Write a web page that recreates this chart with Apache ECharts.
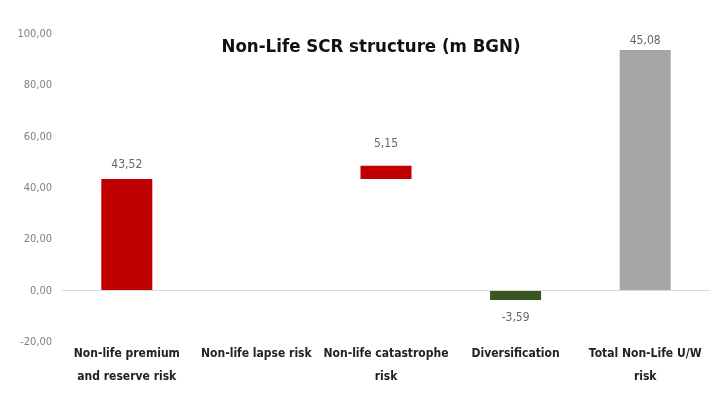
<!DOCTYPE html>
<html><head><meta charset="utf-8">
<script src="https://cdn.jsdelivr.net/npm/echarts@6/dist/echarts.min.js"></script>
<style>html,body{margin:0;padding:0;background:#fff}#c{width:720px;height:415px}</style>
</head><body><div id="c"></div>
<script>
const categories = ["Non-life premium\nand reserve risk", "Non-life lapse risk", "Non-life catastrophe\nrisk", "Diversification", "Total Non-Life U/W\nrisk"];
const baseValues = [0, 0, 43.52, 0, 0];
const barValues = [43.52, null, 5.15, -3.59, 93.75];
const labelValues = [43.52, null, 5.15, -3.59, 45.08];
const barColors = ["#c00000", "#c00000", "#c00000", "#375623", "#a6a6a6"];
const labelDistances = [8, 8, 16, 12, 3];
const fmt = v => v.toFixed(2).replace('.', ',');
const font = '"DejaVu Sans Condensed", "Liberation Sans Narrow", sans-serif';

const chart = echarts.init(document.getElementById('c'));
chart.setOption({
  animation: false,
  title: { text: "Non-Life SCR structure (m BGN)", left: 366, top: 33, textAlign: 'center',
    textStyle: { fontFamily: font, fontSize: 18.5, fontWeight: 'bold', color: '#111' } },
  grid: { left: 62, right: 10, top: 34, bottom: 73, outerBoundsMode: 'none', containLabel: false },
  xAxis: { type: 'category', data: categories,
    axisLine: { show: false }, axisTick: { show: false },
    axisLabel: { fontFamily: font, fontSize: 12, fontWeight: 'bold', color: '#222', margin: 0, lineHeight: 23, interval: 0 } },
  yAxis: { type: 'value', min: -20, max: 100, interval: 20,
    splitLine: { show: false }, axisLine: { show: false }, axisTick: { show: false },
    axisLabel: { fontFamily: font, fontSize: 11, color: '#808080', formatter: v => fmt(v), margin: 10 } },
  series: [
    { type: 'bar', stack: 's', barWidth: 51, silent: true,
      itemStyle: { color: 'rgba(0,0,0,0)' }, data: baseValues },
    { type: 'bar', stack: 's', barWidth: 51,
      data: barValues.map((v, i) => ({ value: v, itemStyle: { color: barColors[i] },
        label: { show: labelValues[i] !== null, position: v < 0 ? 'bottom' : 'top',
          distance: labelDistances[i],
          formatter: () => fmt(labelValues[i]) } })),
      label: { fontFamily: font, fontSize: 12, color: '#666' },
      markLine: { silent: true, symbol: 'none', label: { show: false },
        lineStyle: { color: '#d9d9d9', type: 'solid', width: 1 }, data: [{ yAxis: 0 }] } }
  ]
});
</script></body></html>
